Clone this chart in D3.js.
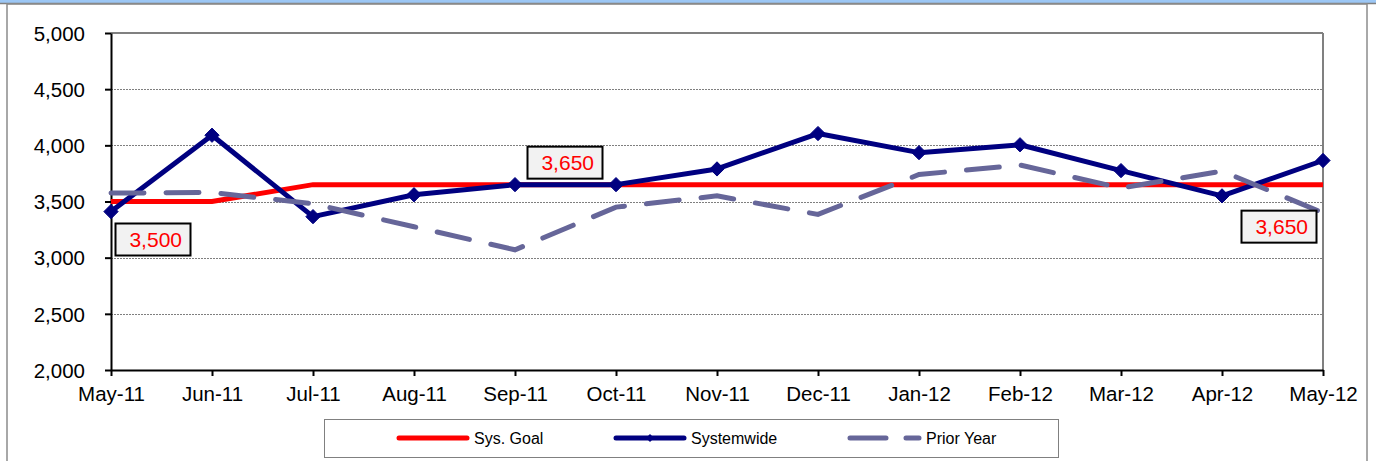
<!DOCTYPE html>
<meta charset="utf-8">
<style>
body { margin: 0; background: #fff; }
text { font-family: "Liberation Sans", Arial, sans-serif; fill: #000; }
.grid line { stroke: #7f7f7f; stroke-width: 1; stroke-dasharray: 2,1; shape-rendering: crispEdges; }
.grid path { stroke-width: 0; }
.axis path, .axis line { stroke: #000; stroke-width: 2; }
.axis text { font-size: 20.5px; }
</style>
<body>
<script src="https://d3js.org/d3.v7.min.js"></script>
<script>

// data
var months = ["May-11","Jun-11","Jul-11","Aug-11","Sep-11","Oct-11","Nov-11","Dec-11","Jan-12","Feb-12","Mar-12","Apr-12","May-12"];
var sysGoal = [3500,3500,3650,3650,3650,3650,3650,3650,3650,3650,3650,3650,3650];
var systemwide = [3410,4090,3365,3560,3650,3650,3790,4105,3935,4005,3775,3550,3865];
var priorYear = [3575,3580,3480,3275,3070,3450,3550,3385,3740,3825,3620,3770,3400];
var yTicks = [2000,2500,3000,3500,4000,4500,5000];
var goalLabels = [0, 4, 12];   // indices of the goal points that carry a label

var W = 1376, H = 461;
// plot area (note: "top" is a reserved window property, so prefix names)
var pLeft = 111, pRight = 1323, pTop = 33, pBottom = 370;

var svg = d3.select("body").append("svg")
    .attr("width", W)
    .attr("height", H);

// blue strip and chart frame
svg.append("rect").attr("x", 0).attr("y", 0).attr("width", W).attr("height", 3)
    .attr("fill", "#9cc7f5");
svg.append("line").attr("x1", 0).attr("x2", W).attr("y1", 3.5).attr("y2", 3.5)
    .attr("stroke", "#808080").attr("stroke-width", 1.5);
svg.append("rect").attr("x", 7).attr("y", 4).attr("width", 1360).attr("height", 480)
    .attr("fill", "none").attr("stroke", "#8c8c8c").attr("stroke-width", 1.5);

var x = d3.scalePoint().domain(months).range([pLeft, pRight]);
var y = d3.scaleLinear().domain([2000, 5000]).range([pBottom, pTop]);

// gridlines
svg.append("g")
    .attr("class", "grid")
    .attr("transform", "translate(" + pLeft + ",0)")
    .call(d3.axisLeft(y).tickValues(yTicks.slice(1, -1)).tickSize(-(pRight - pLeft)).tickFormat(""));

// plot border (top and right are grey)
svg.append("line").attr("x1", pLeft).attr("x2", pRight).attr("y1", pTop).attr("y2", pTop)
    .attr("stroke", "#808080").attr("stroke-width", 2);
svg.append("line").attr("x1", pRight).attr("x2", pRight).attr("y1", pTop).attr("y2", pBottom)
    .attr("stroke", "#808080").attr("stroke-width", 2);

// axes
var gy = svg.append("g")
    .attr("class", "axis")
    .attr("transform", "translate(" + pLeft + ",0)")
    .call(d3.axisLeft(y).tickValues(yTicks).tickSize(6).tickSizeOuter(0).tickPadding(20).tickFormat(d3.format(",")));
gy.selectAll("text").attr("dy", "0.35em");

var gx = svg.append("g")
    .attr("class", "axis")
    .attr("transform", "translate(0," + pBottom + ")")
    .call(d3.axisBottom(x).tickSize(6).tickSizeOuter(0).tickPadding(10));

var line = function (vals) {
  return d3.line()
    .x(function (d, i) { return x(months[i]); })
    .y(function (d) { return y(d); })(vals);
};

// Sys. Goal
svg.append("path")
    .attr("d", line(sysGoal))
    .attr("fill", "none")
    .attr("stroke", "#ff0000")
    .attr("stroke-width", 5);

// Systemwide
svg.append("path")
    .attr("d", line(systemwide))
    .attr("fill", "none")
    .attr("stroke", "#000080")
    .attr("stroke-width", 5)
    .attr("stroke-linejoin", "round");

svg.append("g").selectAll("path")
    .data(systemwide)
    .enter().append("path")
    .attr("d", d3.symbol().type(d3.symbolDiamond2).size(130))
    .attr("transform", function (d, i) { return "translate(" + x(months[i]) + "," + y(d) + ")"; })
    .attr("fill", "#000080")
    .attr("stroke", "#000080")
    .attr("stroke-width", 1);

// Prior Year
svg.append("path")
    .attr("d", line(priorYear))
    .attr("fill", "none")
    .attr("stroke", "#666699")
    .attr("stroke-width", 5)
    .attr("stroke-linecap", "round")
    .attr("stroke-dasharray", "33,22");

// goal data labels
var labelOffset = { 0: [42, 38], 4: [50, -22], 12: [-44, 42] };
goalLabels.forEach(function (i) {
  var cx = x(months[i]) + labelOffset[i][0];
  var cy = y(sysGoal[i]) + labelOffset[i][1];
  svg.append("rect")
      .attr("x", cx - 37.5).attr("y", cy - 16)
      .attr("width", 75).attr("height", 32)
      .attr("fill", "#f2f2f2").attr("stroke", "#000").attr("stroke-width", 2);
  svg.append("text")
      .attr("x", cx + 29).attr("y", cy + 7.5)
      .attr("text-anchor", "end")
      .style("font-size", "21px")
      .style("fill", "#ff0000")
      .text(d3.format(",")(sysGoal[i]));
});

// legend
var legend = svg.append("g");
legend.append("rect")
    .attr("x", 324.5).attr("y", 419.5).attr("width", 734).attr("height", 38)
    .attr("fill", "#fff").attr("stroke", "#808080").attr("stroke-width", 1);

var ly = 438;
legend.append("line").attr("x1", 399).attr("x2", 467).attr("y1", ly).attr("y2", ly)
    .attr("stroke", "#ff0000").attr("stroke-width", 5).attr("stroke-linecap", "round");
legend.append("text").attr("x", 474).attr("y", ly + 5.5).style("font-size", "16px").text("Sys. Goal");

legend.append("line").attr("x1", 616).attr("x2", 684).attr("y1", ly).attr("y2", ly)
    .attr("stroke", "#000080").attr("stroke-width", 5).attr("stroke-linecap", "round");
legend.append("path")
    .attr("d", d3.symbol().type(d3.symbolDiamond2).size(40))
    .attr("transform", "translate(650," + ly + ")")
    .attr("fill", "#000080");
legend.append("text").attr("x", 691).attr("y", ly + 5.5).style("font-size", "16px").text("Systemwide");

legend.append("line").attr("x1", 850).attr("x2", 919).attr("y1", ly).attr("y2", ly)
    .attr("stroke", "#666699").attr("stroke-width", 5).attr("stroke-linecap", "round")
    .attr("stroke-dasharray", "36,20");
legend.append("text").attr("x", 926).attr("y", ly + 5.5).style("font-size", "16px").text("Prior Year");

</script>
</body>
</html>
